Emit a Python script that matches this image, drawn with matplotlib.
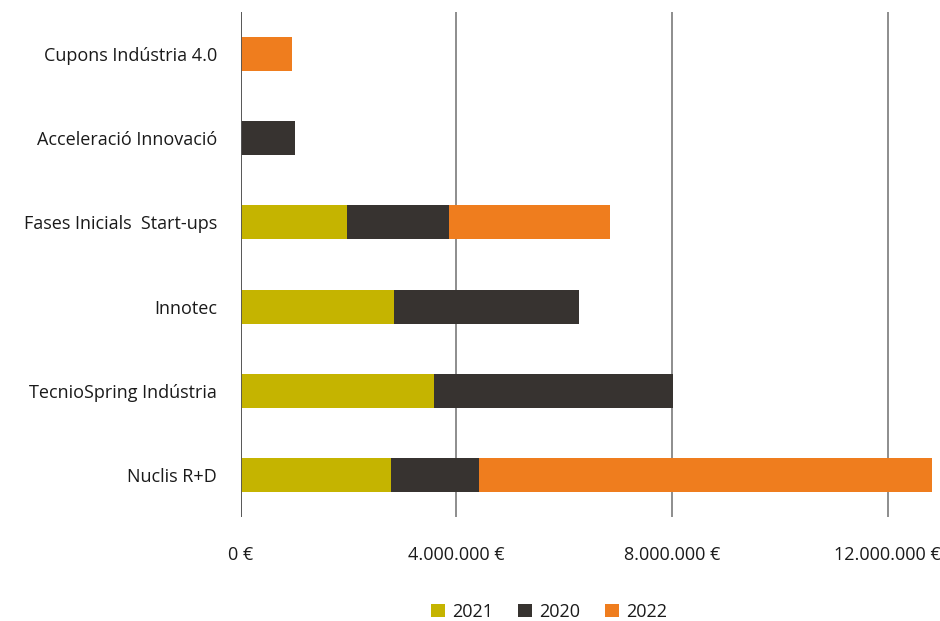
import matplotlib.pyplot as plt
from matplotlib.ticker import FuncFormatter

plt.rcParams['font.family'] = ['Open Sans', 'DejaVu Sans']

# Programs, top to bottom as in the chart
programs = ["Cupons Indústria 4.0", "Acceleració Innovació", "Fases Inicials  Start-ups",
            "Innotec", "TecnioSpring Indústria", "Nuclis R+D"]

# Amounts in euros per year
v2021 = [0, 0, 1975000, 2846000, 3588000, 2790000]
v2020 = [0, 1010000, 1890000, 3430000, 4430000, 1630000]
v2022 = [955000, 0, 2985000, 0, 0, 8400000]

xticks = [0, 4000000, 8000000, 12000000]

colors = {"2021": "#C5B400", "2020": "#373330", "2022": "#EF7D1E"}

fig = plt.figure(figsize=(9.4, 6.21), dpi=100)
ax = fig.add_axes([240.5 / 940, 1 - 517 / 621, 701.1 / 940, 505 / 621])

ypos = list(range(len(programs)))[::-1]
left2020 = [a for a in v2021]
left2022 = [a + b for a, b in zip(v2021, v2020)]

ax.barh(ypos, v2021, height=0.405, color=colors["2021"], label="2021", zorder=3)
ax.barh(ypos, v2020, left=left2020, height=0.405, color=colors["2020"], label="2020", zorder=3)
ax.barh(ypos, v2022, left=left2022, height=0.405, color=colors["2022"], label="2022", zorder=3)

ax.set_xlim(0, 13000000)
ax.set_ylim(-0.5, 5.5)
ax.set_xticks(xticks)
ax.xaxis.set_major_formatter(FuncFormatter(lambda x, p: "{:,.0f} €".format(x).replace(",", ".")))
ax.set_yticks(ypos)
ax.set_yticklabels(programs)

ax.grid(axis="x", color="#7a7a7a", linewidth=1.2, zorder=0)
ax.axvline(0, color="#555555", linewidth=1.3, zorder=4)
for s in ax.spines.values():
    s.set_visible(False)
ax.tick_params(axis="both", length=0, labelsize=13, colors="#1a1a1a")
ax.tick_params(axis="x", pad=21)
ax.tick_params(axis="y", pad=17)

fig.legend(loc="center", bbox_to_anchor=(549 / 940, 0.015), ncol=3, frameon=False,
           fontsize=13, handlelength=0.77, handleheight=0.77, handletextpad=0.38,
           columnspacing=1.4, labelcolor="#1a1a1a")

fig.savefig("out.png", dpi=100)
